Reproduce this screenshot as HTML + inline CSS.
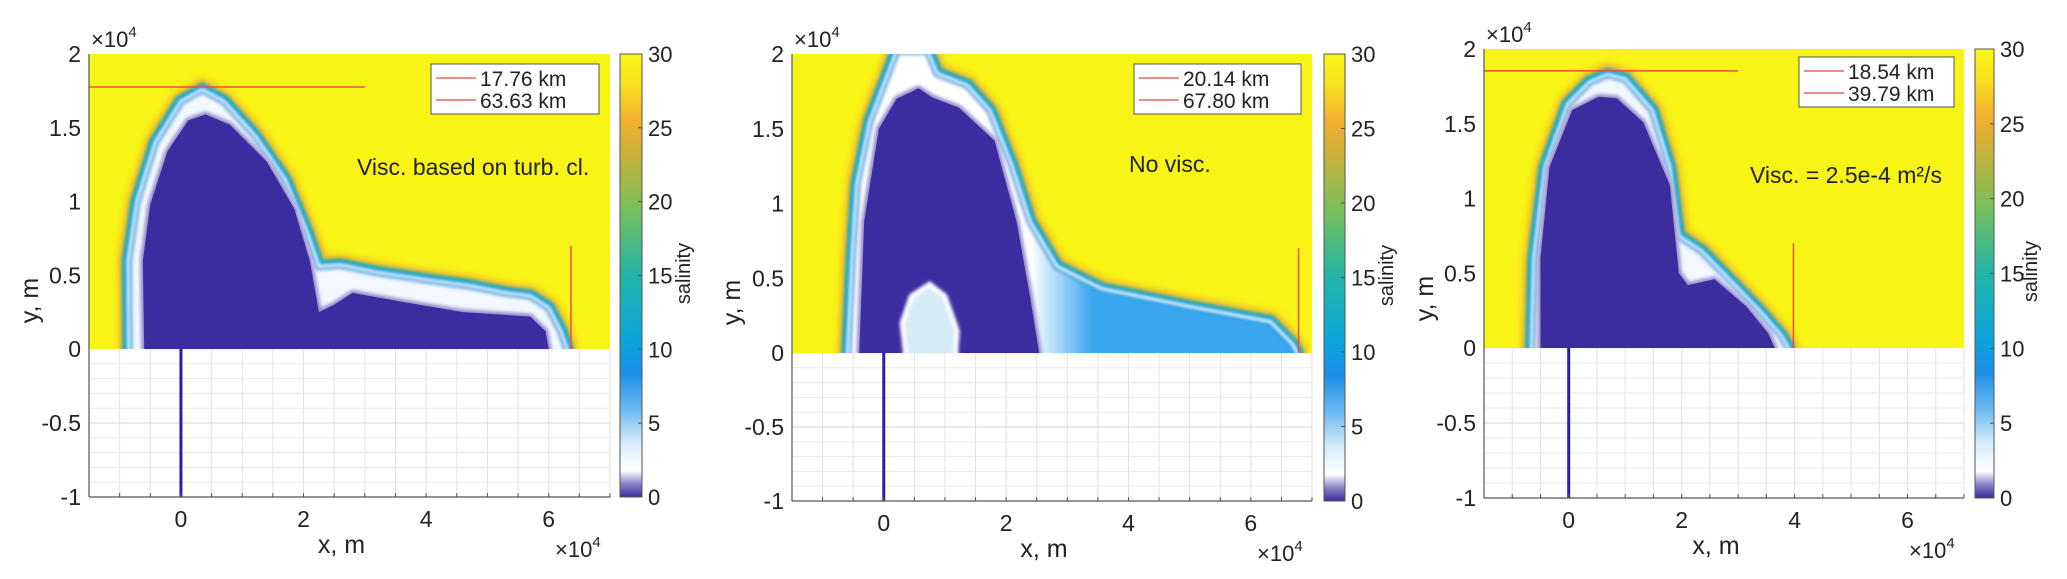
<!DOCTYPE html>
<html><head><meta charset="utf-8">
<style>
body{margin:0;background:#fff;width:2067px;height:579px;overflow:hidden}
svg{display:block}
text{font-family:"Liberation Sans",sans-serif;fill:#222}
</style></head>
<body>
<svg id="fig" width="2067" height="579" viewBox="0 0 2067 579">
<defs>
<filter id="blur4" x="-20%" y="-20%" width="140%" height="140%"><feGaussianBlur stdDeviation="3.5"/></filter>
<filter id="blur2" x="-20%" y="-20%" width="140%" height="140%"><feGaussianBlur stdDeviation="1.6"/></filter>
<linearGradient id="cbar" x1="0" y1="1" x2="0" y2="0">
<stop offset="0" stop-color="#3a2c9e"/><stop offset="0.03" stop-color="#8c84c8"/><stop offset="0.06" stop-color="#ffffff"/>
<stop offset="0.12" stop-color="#d8ecfa"/><stop offset="0.2" stop-color="#6ab8f0"/><stop offset="0.28" stop-color="#1b8ee8"/>
<stop offset="0.35" stop-color="#0ca4dc"/><stop offset="0.5" stop-color="#22b4a8"/><stop offset="0.65" stop-color="#78bf5a"/>
<stop offset="0.78" stop-color="#cdb038"/><stop offset="0.85" stop-color="#f3b030"/><stop offset="0.93" stop-color="#f7e020"/><stop offset="1" stop-color="#f8f614"/>
</linearGradient>
</defs>
</svg>
<script>
// ---- data (units: x 1e4 m, y 1e4 m) ----
const xTicks=[0,2,4,6];
const yTicks=[-1,-0.5,0,0.5,1,1.5,2];
const cbTicks=[0,5,10,15,20,25,30];
const p1Outer=[[-0.85,0],[-0.86,0.6],[-0.72,1.0],[-0.42,1.4],[0.0,1.68],[0.35,1.76],[0.7,1.68],[1.2,1.45],[1.7,1.15],[2.05,0.8],[2.25,0.56],[2.6,0.57],[3.2,0.52],[4.0,0.47],[4.7,0.43],[5.3,0.38],[5.7,0.36],[6.0,0.28],[6.2,0.12],[6.3,0]];
const p1Inner=[[-0.6,0],[-0.62,0.6],[-0.5,0.98],[-0.22,1.34],[0.12,1.55],[0.4,1.59],[0.8,1.52],[1.4,1.27],[1.85,0.95],[2.1,0.6],[2.25,0.25],[2.5,0.3],[2.8,0.38],[3.6,0.32],[4.6,0.25],[5.7,0.22],[5.95,0.12],[6.0,0]];
const p2Outer=[[-0.59,0],[-0.52,0.63],[-0.44,1.13],[-0.23,1.55],[0.07,1.87],[0.21,2.02],[0.72,2.02],[0.87,1.87],[1.37,1.79],[1.74,1.62],[2.1,1.25],[2.39,0.88],[2.83,0.58],[3.56,0.43],[5.01,0.31],[6.32,0.21],[6.68,0.06],[6.76,0]];
const p2Inner=[[-0.4,0],[-0.32,0.88],[-0.08,1.5],[0.21,1.7],[0.57,1.77],[0.79,1.71],[1.23,1.64],[1.81,1.42],[2.17,0.88],[2.39,0.38],[2.54,0]];
const p2Bubble=[[0.35,0.02],[0.3,0.2],[0.45,0.38],[0.75,0.46],[1.0,0.38],[1.2,0.15],[1.18,0.02]];
const p3Outer=[[-0.66,0],[-0.62,0.6],[-0.42,1.21],[-0.02,1.63],[0.37,1.78],[0.69,1.83],[1.0,1.8],[1.48,1.59],[1.79,1.21],[1.95,0.75],[2.35,0.65],[2.74,0.5],[3.38,0.25],[3.77,0.08],[3.89,0]];
const p3Inner=[[-0.5,0],[-0.5,0.6],[-0.34,1.21],[0.06,1.59],[0.53,1.68],[0.85,1.67],[1.32,1.51],[1.79,1.09],[1.95,0.5],[2.11,0.42],[2.58,0.46],[3.14,0.28],[3.53,0.1],[3.65,0]];
const legendVals1=["17.76 km","63.63 km"];
const legendVals2=["20.14 km","67.80 km"];
const legendVals3=["18.54 km","39.79 km"];
const hLineY=[1.776,2.014,1.854];
const vLineX=[6.363,6.780,3.979];

const NS="http://www.w3.org/2000/svg";
const svg=document.getElementById('fig');
function mk(tag,attrs,parent){const e=document.createElementNS(NS,tag);for(const k in attrs)e.setAttribute(k,attrs[k]);(parent||svg).appendChild(e);return e;}

const panels=[
 {id:1,L:89,R:610,T:54,Z:349,B:497,cbL:620,cbR:642,outer:p1Outer,inner:p1Inner,leg:legendVals1,legX:431,legY:64,legW:168,note:"Visc. based on turb. cl.",noteX:357,noteY:175,ylabX:30,salX:690,hy:hLineY[0],vx:vLineX[0]},
 {id:2,L:792,R:1312,T:54,Z:353,B:501,cbL:1324,cbR:1345,outer:p2Outer,inner:p2Inner,bubble:p2Bubble,leg:legendVals2,legX:1134,legY:64,legW:167,note:"No visc.",noteX:1129,noteY:172,ylabX:732,salX:1393,hy:hLineY[1],vx:vLineX[1]},
 {id:3,L:1484,R:1964,T:49,Z:348,B:498,cbL:1975,cbR:1994,outer:p3Outer,inner:p3Inner,leg:legendVals3,legX:1799,legY:57,legW:155,note:"Visc. = 2.5e-4  m²/s",noteX:1750,noteY:183,ylabX:1425,salX:2037,hy:hLineY[2],vx:vLineX[2]}
];

panels.forEach(p=>{
 const g=mk('g',{});
 
 
 const sx=x=>p.L+(x+1.5)/8.5*(p.R-p.L);
 const sy=y=>y>=0?p.Z-(y/2)*(p.Z-p.T):p.Z-y*(p.B-p.Z);
 const pathOf=(pts)=>{let d='M'+pts.map(q=>sx(q[0]).toFixed(1)+','+sy(q[1]).toFixed(1)).join(' L');const a=pts[0],b=pts[pts.length-1];d+=' L'+sx(b[0]).toFixed(1)+','+(p.Z+30)+' L'+sx(a[0]).toFixed(1)+','+(p.Z+30)+' Z';return d;};
 const cp=mk('clipPath',{id:'clip'+p.id},svg.querySelector('defs'));
 mk('rect',{x:p.L,y:p.T,width:p.R-p.L,height:p.Z-p.T},cp);
 // lower grid
 const grid=mk('g',{},g);
 
 
 mk('rect',{x:p.L,y:p.Z,width:p.R-p.L,height:p.B-p.Z,fill:'#fff'},grid);
 for(let x=-1.5;x<=7.001;x+=0.5){mk('line',{x1:sx(x),x2:sx(x),y1:p.Z,y2:p.B,stroke:'#e2e2e2','stroke-width':1},grid);}
 for(let y=-1;y<0;y+=0.1){mk('line',{x1:p.L,x2:p.R,y1:sy(y),y2:sy(y),stroke:(Math.abs(y+0.5)<0.01?'#d6d6d6':'#eaeaea'),'stroke-width':1},grid);}
 // upper field
 const up=mk('g',{'clip-path':'url(#clip'+p.id+')'},g);
 
 
 mk('rect',{x:p.L,y:p.T,width:p.R-p.L,height:p.Z-p.T,fill:'#f8f416'},up);
 const od=pathOf(p.outer);
 mk('path',{d:od,fill:'none',stroke:'#f2a838','stroke-width':20,filter:'url(#blur4)',opacity:0.9},up);
 let ofill='#f2f8fd';
 if(p.id===2){
  const lg=mk('linearGradient',{id:'tail2',gradientUnits:'userSpaceOnUse',x1:sx(2.4),y1:0,x2:sx(3.4),y2:0},svg.querySelector('defs'));
  mk('stop',{offset:0,'stop-color':'#ffffff'},lg);mk('stop',{offset:1,'stop-color':'#3aa6f0'},lg);
  ofill='url(#tail2)';
 }
 mk('path',{d:od,fill:'none',stroke:'#2db3a6','stroke-width':13,filter:'url(#blur2)'},up);
 const o=mk('path',{d:od,fill:ofill,stroke:'#1a9ae0','stroke-width':8,filter:'url(#blur2)'},up);
 
 mk('path',{d:od,fill:'none',stroke:'#ffffff','stroke-width':3,filter:'url(#blur2)'},up);
 const id=pathOf(p.inner);
 mk('path',{d:id,fill:'#ffffff',stroke:'#ffffff','stroke-width':6},up);
 const inn=mk('path',{d:id,fill:'#3b2d9f',stroke:'#9890cc','stroke-width':6,filter:'url(#blur2)'},up);
 
 mk('path',{d:id,fill:'#3b2d9f',stroke:'none'},up);
 if(p.bubble){
  const bd=pathOf(p.bubble);
  const bb=mk('path',{d:bd,fill:'#d6ebf8',stroke:'#ffffff','stroke-width':5,filter:'url(#blur2)'},up);
  
 }
 if(p.hy<=2){const h=mk('line',{x1:sx(-1.5),x2:sx(3),y1:sy(p.hy),y2:sy(p.hy),stroke:'#e8503c','stroke-width':1.5},g);
  }
 const v=mk('line',{x1:sx(p.vx),x2:sx(p.vx),y1:sy(0),y2:sy(0.7),stroke:'#e8503c','stroke-width':1.5},g);
 
 const st=mk('line',{x1:sx(0),x2:sx(0),y1:sy(0),y2:sy(-1),stroke:'#2a1fa8','stroke-width':3},g);
 
 // axes
 mk('line',{x1:p.L,x2:p.L,y1:p.T,y2:p.B,stroke:'#555','stroke-width':1.2},g);
 mk('line',{x1:p.L,x2:p.R,y1:p.B,y2:p.B,stroke:'#555','stroke-width':1.2},g);
 for(let x=-1;x<=7.001;x+=0.5){mk('line',{x1:sx(x),x2:sx(x),y1:p.B,y2:p.B-4,stroke:'#555'},g);}
 xTicks.forEach(x=>{const t=mk('text',{x:sx(x),y:p.B+30,'font-size':23,'text-anchor':'middle'},g);t.textContent=x;
  });
 yTicks.forEach(y=>{const t=mk('text',{x:p.L-8,y:sy(y)+8,'font-size':23,'text-anchor':'end'},g);t.textContent=y;
  });
 const xl=mk('text',{x:(p.L+p.R)/2-8,y:p.B+56,'font-size':25,'text-anchor':'middle'},g);xl.textContent='x, m';
 
 const yl=mk('text',{x:0,y:0,'font-size':25,'text-anchor':'middle',transform:`translate(${p.ylabX+8},${(p.T+p.B)/2+25}) rotate(-90)`},g);yl.textContent='y, m';
 
 const e1=mk('text',{x:p.L+2,y:p.T-7,'font-size':22},g);e1.innerHTML='×10<tspan dy="-10" font-size="15">4</tspan>';
 
 const e2=mk('text',{x:p.R-55,y:p.B+60,'font-size':22},g);e2.innerHTML='×10<tspan dy="-10" font-size="15">4</tspan>';
 
 const lgG=mk('g',{},g);
 
 
 mk('rect',{x:p.legX,y:p.legY,width:p.legW,height:50,fill:'#fff',stroke:'#555','stroke-width':1},lgG);
 p.leg.forEach((s,i)=>{const yy=p.legY+14+i*22;
  mk('line',{x1:p.legX+5,x2:p.legX+45,y1:yy,y2:yy,stroke:'#e06a5a','stroke-width':1.5},lgG);
  const t=mk('text',{x:p.legX+49,y:yy+8,'font-size':21},lgG);t.textContent=s;
  });
 const nt=mk('text',{x:p.noteX,y:p.noteY,'font-size':23,fill:'#111'},g);nt.textContent=p.note;
 
 const cb=mk('rect',{x:p.cbL,y:p.T,width:p.cbR-p.cbL,height:p.B-p.T,fill:'url(#cbar)',stroke:'#555','stroke-width':1},g);
 
 cbTicks.forEach(v=>{const yy=p.B-(v/30)*(p.B-p.T);
  mk('line',{x1:p.cbR-4,x2:p.cbR,y1:yy,y2:yy,stroke:'#555'},g);
  const t=mk('text',{x:p.cbR+6,y:yy+8,'font-size':22},g);t.textContent=v;
  });
 const sl=mk('text',{x:0,y:0,'font-size':20,'text-anchor':'middle',transform:`translate(${p.salX},${(p.T+p.B)/2-2}) rotate(-90)`},g);sl.textContent='salinity';
 
});
</script>
</body></html>
